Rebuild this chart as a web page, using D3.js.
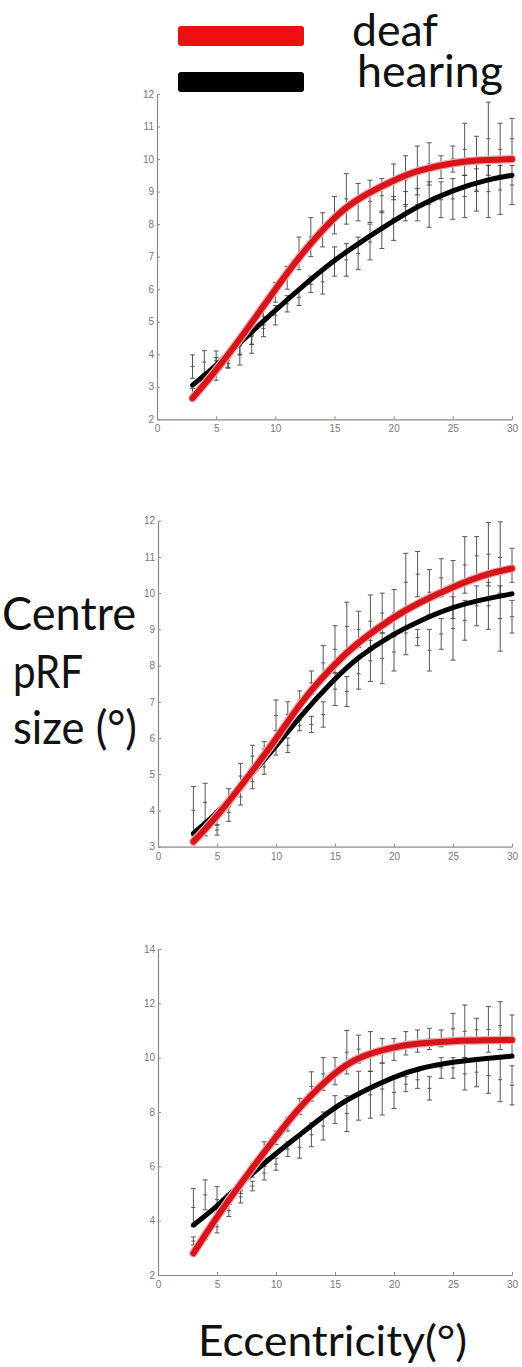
<!DOCTYPE html>
<html><head><meta charset="utf-8">
<script src="https://cdn.jsdelivr.net/npm/d3@7"></script>
<style>body{margin:0;background:#fff;} svg{display:block;}</style>
</head><body>
<svg id="c" width="522" height="1367"></svg>
<script>
// ---------- DATA ----------
const eccentricity = [3,4,5,6,7,8,9,10,11,12,13,14,15,16,17,18,19,20,21,22,23,24,25,26,27,28,29,30];
const curveX = [3,5,7,10,12,15,17,20,22,25,28,30];
const xTicks = [0,5,10,15,20,25,30];
const legendLabels = ["deaf","hearing"];

// panel 1
const p1YTicks = [2,3,4,5,6,7,8,9,10,11,12];
const p1DeafCurve = [2.65,3.5,4.45,6.0,7.0,8.25,8.8,9.35,9.65,9.9,9.98,10.0];
const p1HearCurve = [3.05,3.65,4.35,5.35,6.0,6.9,7.4,8.1,8.55,9.05,9.38,9.5];
const p1DeafLow  = [2.6,3.0,3.2,3.6,4.0,4.3,4.9,5.6,6.0,6.6,7.0,7.3,7.7,8.0,8.1,8.05,8.35,8.75,8.6,8.9,9.2,9.4,9.6,9.5,9.0,9.5,9.5,10.0];
const p1DeafHigh = [2.95,3.35,3.9,4.0,4.5,4.8,5.4,6.2,6.7,7.6,8.2,8.35,8.85,9.55,9.25,9.35,9.4,9.85,10.1,10.4,10.5,10.1,10.4,11.1,10.7,11.75,11.1,11.25];
const p1HearLow  = [3.26,3.41,3.5,3.57,3.67,4.03,4.54,4.9,5.3,5.5,5.9,5.85,6.4,6.4,6.6,6.9,7.25,7.5,8.1,8.1,7.9,8.2,8.15,8.2,8.4,8.2,8.3,8.6];
const p1HearHigh = [3.98,4.11,4.1,3.87,4.28,4.59,5.05,5.5,5.8,6.0,6.4,6.6,7.3,7.4,7.6,8.0,8.4,8.85,9.0,9.1,9.3,9.3,9.4,9.5,9.7,9.8,9.8,9.8];

// panel 2
const p2YTicks = [3,4,5,6,7,8,9,10,11,12];
const p2DeafCurve = [3.14,3.83,4.66,5.95,6.96,8.06,8.66,9.35,9.72,10.18,10.55,10.68];
const p2HearCurve = [3.37,3.92,4.66,5.76,6.59,7.65,8.25,8.89,9.21,9.63,9.86,9.98];
const p2DeafLow  = [3.05,3.3,3.32,3.7,4.6,5.2,5.5,6.2,6.3,6.8,7.2,7.6,7.8,8.4,8.5,8.5,8.9,8.8,9.5,9.9,9.4,9.9,9.3,10.0,10.5,10.2,10.0,10.3];
const p2DeafHigh = [3.3,3.6,3.6,4.2,5.3,5.8,5.9,7.05,7.0,7.3,7.85,8.55,9.1,9.75,9.5,9.95,10.0,10.1,11.1,11.15,10.65,10.95,10.9,11.56,11.56,11.95,11.97,11.24];
const p2HearLow  = [3.35,3.7,3.6,4.1,4.15,4.6,5.0,5.53,5.6,6.2,6.15,6.3,6.9,6.87,7.35,7.56,7.5,7.85,8.3,8.55,7.85,8.45,8.15,8.7,9.1,9.0,8.4,8.9];
const p2HearHigh = [4.66,4.75,4.0,4.6,4.6,5.0,5.4,6.0,6.0,6.5,6.6,7.0,7.8,7.7,8.2,8.7,8.9,8.9,9.5,9.0,9.0,9.3,9.9,9.8,10.2,10.3,10.2,9.8];

// panel 3
const p3YTicks = [2,4,6,8,10,12,14];
const p3DeafCurve = [2.8,4.15,5.37,7.09,8.2,9.48,10.04,10.4,10.53,10.62,10.64,10.65];
const p3HearCurve = [3.84,4.52,5.37,6.48,7.15,8.2,8.69,9.3,9.6,9.85,9.98,10.06];
const p3DeafLow  = [3.1,3.3,3.55,4.15,4.65,5.6,6.3,6.8,7.3,7.9,8.4,8.8,9.0,9.4,9.8,9.5,9.8,9.9,10.1,10.2,10.3,10.4,10.5,10.0,10.6,10.2,10.3,10.0];
const p3DeafHigh = [3.4,3.6,4.0,4.6,5.1,6.1,6.9,7.3,7.8,8.5,9.48,10.0,10.0,11.0,10.83,10.96,10.7,10.7,10.96,11.02,11.08,11.02,11.63,11.94,11.45,11.88,12.06,11.57];
const p3HearLow  = [3.78,4.4,4.3,4.6,5.0,5.1,5.5,5.86,6.36,6.3,6.72,6.97,7.58,7.28,7.7,7.77,7.89,8.13,8.75,8.87,8.44,9.24,9.24,8.81,8.93,8.69,8.38,8.26];
const p3HearHigh = [5.19,5.5,5.25,5.0,5.4,5.45,6.0,6.3,6.9,7.1,7.6,8.0,8.6,8.6,9.5,9.5,9.8,9.3,9.3,9.5,9.3,10.0,10.0,10.0,10.0,10.0,10.0,9.7];

// ---------- LAYOUT ----------
const svg = d3.select("#c");
const panels = [
  {x0:157, x1:512, yTop:94,    yBot:419.3, dom:[2,12], ticks:p1YTicks, deaf:p1DeafCurve, hear:p1HearCurve, dl:p1DeafLow, dh:p1DeafHigh, hl:p1HearLow, hh:p1HearHigh},
  {x0:158, x1:512, yTop:520.7, yBot:846.7, dom:[3,12], ticks:p2YTicks, deaf:p2DeafCurve, hear:p2HearCurve, dl:p2DeafLow, dh:p2DeafHigh, hl:p2HearLow, hh:p2HearHigh},
  {x0:158, x1:512, yTop:949,   yBot:1275,  dom:[2,14], ticks:p3YTicks, deaf:p3DeafCurve, hear:p3HearCurve, dl:p3DeafLow, dh:p3DeafHigh, hl:p3HearLow, hh:p3HearHigh}
];
const axisColor = "#8a8a8a";
const barColor = "#3a3a3a";

panels.forEach(p => {
  const x = d3.scaleLinear().domain([0,30]).range([p.x0, p.x1]);
  const y = d3.scaleLinear().domain(p.dom).range([p.yBot, p.yTop]);
  const g = svg.append("g");

  const ax = g.append("g").attr("transform", `translate(0,${p.yBot})`)
    .call(d3.axisBottom(x).tickValues(xTicks).tickSize(-3).tickSizeOuter(0).tickPadding(6));
  const ay = g.append("g").attr("transform", `translate(${p.x0},0)`)
    .call(d3.axisLeft(y).tickValues(p.ticks).tickSize(-3).tickSizeOuter(0).tickPadding(3));
  [ax, ay].forEach(a => {
    a.select(".domain").attr("stroke", axisColor).attr("stroke-width", 1.2);
    a.selectAll(".tick line").attr("stroke", axisColor);
    a.selectAll(".tick text").attr("fill", "#777").attr("font-family", "Liberation Sans, sans-serif").attr("font-size", 10);
  });

  const bars = (lo, hi) => {
    const eb = g.append("g").attr("stroke", barColor).attr("stroke-width", 1).attr("opacity", 0.85);
    eccentricity.forEach((e, i) => {
      const cx = x(e), ylo = y(lo[i]), yhi = y(hi[i]), ym = y((lo[i]+hi[i])/2);
      eb.append("line").attr("x1", cx).attr("x2", cx).attr("y1", ylo).attr("y2", yhi);
      eb.append("line").attr("x1", cx-2.5).attr("x2", cx+2.5).attr("y1", ylo).attr("y2", ylo);
      eb.append("line").attr("x1", cx-2.5).attr("x2", cx+2.5).attr("y1", yhi).attr("y2", yhi);
      eb.append("line").attr("x1", cx-2).attr("x2", cx+2).attr("y1", ym).attr("y2", ym);
    });
  };
  bars(p.hl, p.hh);
  bars(p.dl, p.dh);

  const line = d3.line().x((d,i) => x(curveX[i])).y(d => y(d)).curve(d3.curveBasis);
  g.append("path").attr("d", line(p.hear)).attr("fill","none").attr("stroke","#000").attr("stroke-width",5).attr("stroke-linecap","round");
  g.append("path").attr("d", line(p.deaf)).attr("fill","none").attr("stroke","#f0a8a8").attr("stroke-width",8.5).attr("stroke-linecap","round");
  g.append("path").attr("d", line(p.deaf)).attr("fill","none").attr("stroke","#d5141b").attr("stroke-width",6).attr("stroke-linecap","round");
});

// ---------- LEGEND ----------
const legendColors = ["#ec1010", "#000"];
const legendY = [26, 72];
legendLabels.forEach((lab, i) => {
  svg.append("rect").attr("x",178).attr("y",legendY[i]).attr("width",126).attr("height",20).attr("rx",3).attr("fill",legendColors[i]);
});
const bigFont = "Lato, 'Open Sans', sans-serif";
const legText = svg.append("text").attr("font-family", bigFont).attr("font-size", 45).attr("fill", "#111");
const legX = [352, 357], legBase = [46, 87], legW = [86, 146];
legendLabels.forEach((lab, i) => {
  legText.append("tspan").attr("x", legX[i]).attr("y", legBase[i])
    .attr("textLength", legW[i]).attr("lengthAdjust", "spacingAndGlyphs").text(lab);
});
function bigText(str, x, yb, w, fs) {
  svg.append("text").attr("x", x).attr("y", yb).attr("font-family", bigFont).attr("font-size", fs)
    .attr("fill", "#111").attr("textLength", w).attr("lengthAdjust", "spacingAndGlyphs").text(str);
}

// ---------- AXIS TITLES ----------
bigText("Centre", 2, 630, 134, 46);
bigText("pRF", 13, 688, 70, 46);
bigText("size (°)", 13, 744, 124, 46);
bigText("Eccentricity(°)", 198, 1356, 269, 43);
</script>
</body></html>
